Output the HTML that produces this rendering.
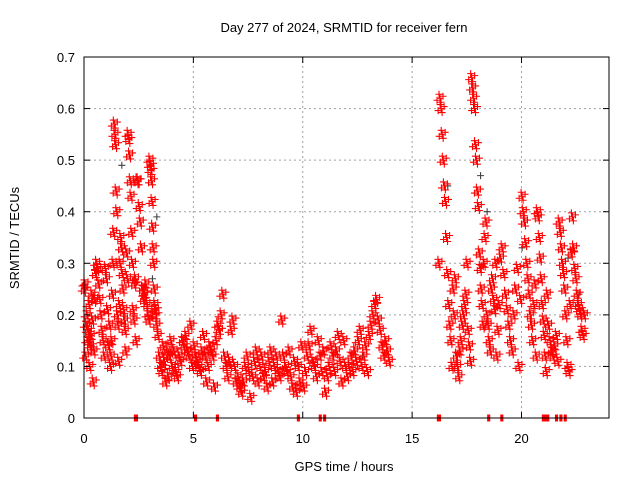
<!DOCTYPE html>
<html><head><meta charset="utf-8"><style>
body{margin:0;background:#fff}
svg text{font-family:"Liberation Sans",sans-serif;font-size:13px;fill:#000}
</style></head><body>
<svg id="chart" width="640" height="480" xmlns="http://www.w3.org/2000/svg">
<rect width="640" height="480" fill="#fff"/>
<text x="344" y="32" text-anchor="middle">Day 277 of 2024, SRMTID for receiver fern</text>
<text transform="translate(19,238) rotate(-90)" text-anchor="middle">SRMTID / TECUs</text>
<text x="344" y="471" text-anchor="middle">GPS time / hours</text>
<g id="grid"></g>
<g id="gray"></g>
<g id="red"></g>
<g id="axes"></g>
</svg>
<script>
const xTicks=[0,5,10,15,20];
const yTicks=[0,0.1,0.2,0.3,0.4,0.5,0.6,0.7];
const yTickLabels=["0","0.1","0.2","0.3","0.4","0.5","0.6","0.7"];
const segStart=[0,0.5,1.2,1.6,2.0,2.4,3.0,3.3,4.0,5,6,7,8,9,10,11,12,13,16.2,17,17.7,18.4,19,20,20.7,21.2,21.7,22.3];
const segEnd=[0.5,1.2,1.6,2.0,2.4,3.0,3.3,4.0,5,6,7,8,9,10,11,12,13,14,17,17.7,18.4,19,20,20.7,21.2,21.7,22.3,22.9];
const segValues=[
[0.25,0.26,0.12,0.18,0.2,0.15,0.17,0.22,0.1,0.14,0.16,0.24,0.19,0.07,0.13,0.23],
[0.28,0.3,0.29,0.26,0.23,0.2,0.17,0.15,0.12,0.29,0.27,0.21,0.14,0.18],
[0.1,0.12,0.15,0.24,0.3,0.36,0.57,0.55,0.53,0.44,0.4,0.2,0.18,0.11],
[0.22,0.3,0.35,0.33,0.28,0.25,0.21,0.19,0.17,0.13,0.32,0.27],
[0.55,0.54,0.51,0.46,0.43,0.36,0.3,0.21,0.19,0.26,0.27,0.15],
[0.46,0.46,0.41,0.38,0.33,0.25,0.23,0.24,0.26,0.22,0.2,0.19],
[0.5,0.49,0.48,0.46,0.42,0.37,0.33,0.3,0.25,0.22,0.21,0.2],
[0.18,0.16,0.12,0.1,0.09,0.14,0.11,0.07,0.13,0.08,0.12,0.15],
[0.1,0.13,0.09,0.08,0.12,0.11,0.15,0.14,0.16,0.13,0.12,0.18,0.1],
[0.14,0.12,0.11,0.1,0.09,0.13,0.16,0.12,0.07,0.1,0.14,0.13,0.12,0.06],
[0.15,0.18,0.17,0.2,0.24,0.12,0.1,0.08,0.11,0.17,0.19,0.1,0.07],
[0.08,0.06,0.05,0.07,0.1,0.12,0.09,0.04,0.08,0.11,0.13,0.07],
[0.1,0.12,0.08,0.09,0.06,0.11,0.13,0.07,0.1,0.12,0.09,0.08],
[0.19,0.12,0.1,0.09,0.13,0.08,0.06,0.11,0.05,0.1,0.07,0.14],
[0.06,0.09,0.12,0.14,0.17,0.11,0.1,0.08,0.15,0.12,0.09,0.13],
[0.05,0.08,0.1,0.14,0.12,0.09,0.13,0.16,0.11,0.07,0.15,0.1],
[0.08,0.1,0.12,0.09,0.13,0.11,0.15,0.17,0.1,0.12,0.14,0.09],
[0.16,0.18,0.2,0.22,0.23,0.19,0.17,0.14,0.12,0.15,0.13,0.11],
[0.3,0.62,0.6,0.55,0.5,0.45,0.42,0.35,0.28,0.22,0.18,0.15,0.1,0.25,0.2,0.27],
[0.12,0.1,0.08,0.13,0.15,0.18,0.2,0.22,0.24,0.3,0.17,0.14,0.11],
[0.66,0.64,0.62,0.6,0.53,0.5,0.44,0.41,0.32,0.29,0.25,0.22,0.18,0.3,0.35,0.38],
[0.2,0.18,0.15,0.13,0.25,0.27,0.23,0.21,0.3,0.12,0.17,0.22],
[0.31,0.33,0.28,0.24,0.21,0.18,0.15,0.13,0.2,0.25,0.29,0.1,0.23],
[0.43,0.4,0.38,0.34,0.3,0.27,0.24,0.2,0.18,0.15,0.22,0.26,0.12],
[0.4,0.39,0.35,0.31,0.27,0.22,0.19,0.16,0.12,0.09,0.24],
[0.18,0.15,0.13,0.12,0.14,0.16,0.11],
[0.38,0.36,0.33,0.3,0.28,0.25,0.2,0.15,0.1,0.09,0.22,0.32],
[0.39,0.33,0.29,0.27,0.24,0.22,0.21,0.2,0.17,0.16,0.2]];
const zeroTimes=[2.35,2.4,5.1,6.1,9.8,10.8,11.0,16.2,16.25,18.5,19.1,21.0,21.1,21.2,21.6,21.8,22.0];
const grayTimes=[0.1,1.5,2.9,3.1,9.6,12.5,16.4,17.9,18.2,19.8,21.9,22.4];
const grayValues=[0.14,0.49,0.27,0.39,0.1,0.12,0.45,0.47,0.4,0.33,0.31,0.24];

const X0=84,X1=609,Y0=418,Y1=57;
const xs=t=>X0+t/24*(X1-X0);
const ys=v=>Y0-v/0.7*(Y0-Y1);
const NS="http://www.w3.org/2000/svg";
function mk(tag,attrs,parent){const e=document.createElementNS(NS,tag);for(const k in attrs)e.setAttribute(k,attrs[k]);parent.appendChild(e);return e;}
const grid=document.getElementById('grid'),axes=document.getElementById('axes');
yTicks.forEach((v,i)=>{
  const y=ys(v);
  if(i>0&&i<yTicks.length-1){const g=mk('line',{x1:X0,x2:X1,y1:y,y2:y,stroke:'#a0a0a0','stroke-dasharray':'2,3'},grid);
  
  }
  mk('line',{x1:X0,x2:X0+6,y1:y,y2:y,stroke:'#000'},axes);
  mk('line',{x1:X1-6,x2:X1,y1:y,y2:y,stroke:'#000'},axes);
  const t=mk('text',{x:X0-9,y:y+5,'text-anchor':'end'},axes);t.textContent=yTickLabels[i];
  
  
});
xTicks.forEach(v=>{
  const x=xs(v);
  if(v>0){const g=mk('line',{x1:x,x2:x,y1:Y0,y2:Y1,stroke:'#a0a0a0','stroke-dasharray':'2,3'},grid);
  
  }
  mk('line',{x1:x,x2:x,y1:Y0,y2:Y0-6,stroke:'#000'},axes);
  mk('line',{x1:x,x2:x,y1:Y1,y2:Y1+6,stroke:'#000'},axes);
  const t=mk('text',{x:x,y:Y0+25,'text-anchor':'middle'},axes);t.textContent=String(v);
  
  
});
const fr=mk('rect',{x:X0,y:Y1,width:X1-X0,height:Y0-Y1,fill:'none',stroke:'#000'},axes);


const clusterOffsets=[[0,0],[-3,2],[3,-2],[-1,-4],[1,4]];
const zeroOffsets=[[0,0],[-1,0],[1,0]];
function plus(parent,t,v,color,name,offs){
  const x=xs(t),y=ys(v);
  let d='';
  offs.forEach(([dx,dy])=>{d+=`M${x+dx-3.5},${y+dy}h7M${x+dx},${y+dy-3.5}v7`;});
  const p=mk('path',{d:d,stroke:color,'stroke-width':1.1,fill:'none'},parent);
  
  
}
const gray=document.getElementById('gray'),red=document.getElementById('red');
grayTimes.forEach((t,i)=>plus(gray,t,grayValues[i],'#404040','gray-point',[[5,0]]));
segValues.forEach((vals,s)=>{
  const n=vals.length;
  vals.forEach((v,i)=>{const t=segStart[s]+(segEnd[s]-segStart[s])*(i+0.5)/n;plus(red,t,v,'#ff0000','red-point',clusterOffsets);});
});
zeroTimes.forEach(t=>plus(red,t,0,'#ff0000','zero-point',zeroOffsets));
</script>
</body></html>
